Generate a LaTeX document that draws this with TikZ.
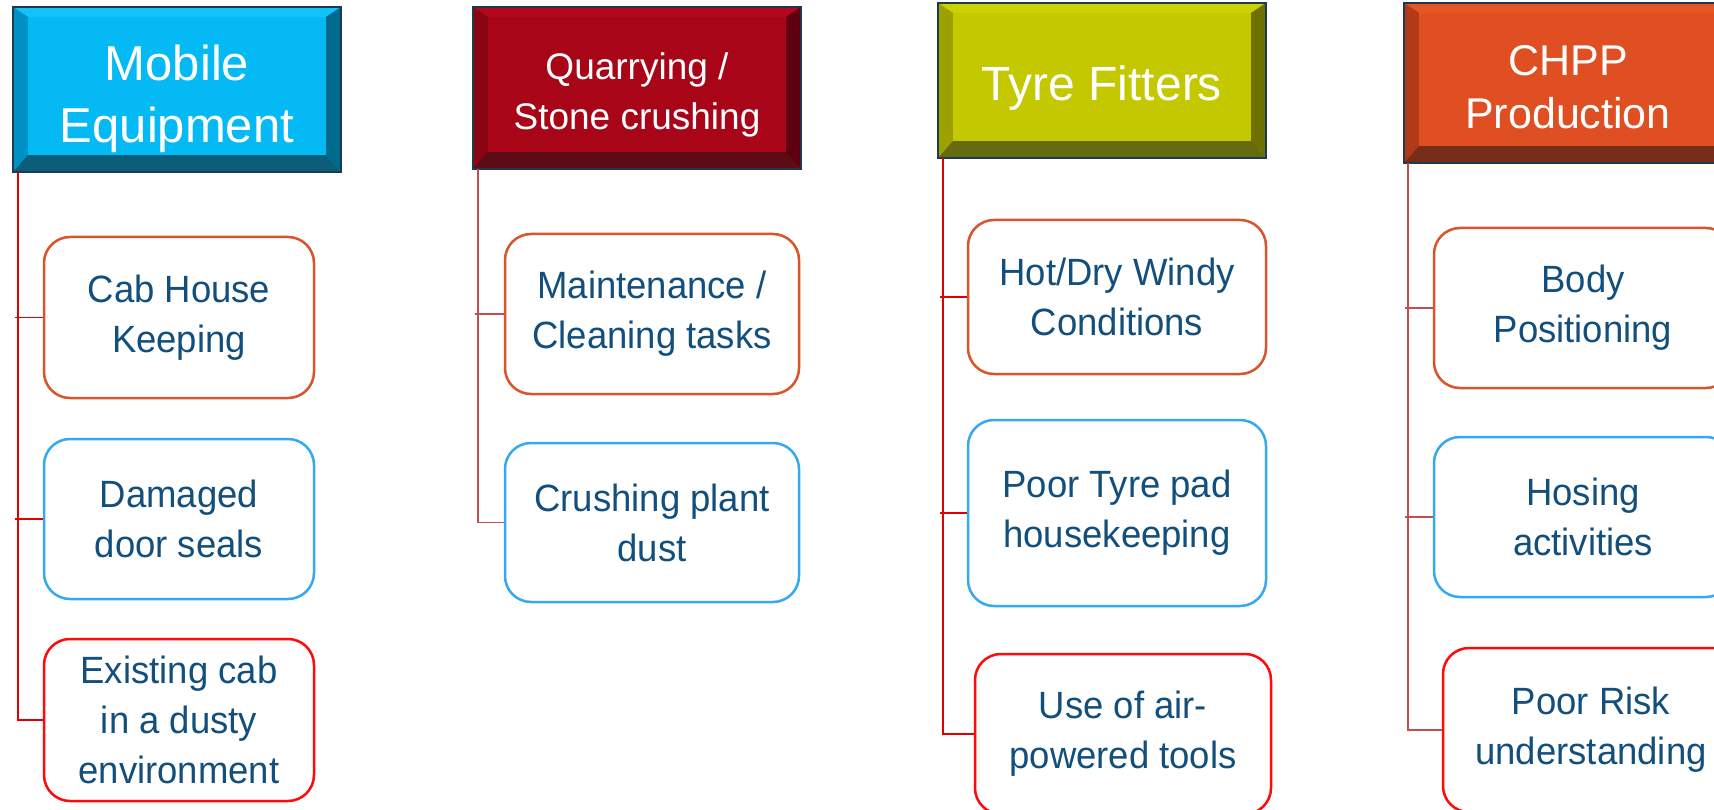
\documentclass[tikz,border=0pt]{standalone}
\usepackage{fontspec}
\setmainfont{Liberation Sans}
\newfontfamily\subfont[FakeStretch=0.96]{Liberation Sans}
\usetikzlibrary{calc}
\definecolor{txtblue}{HTML}{134F7C}
\definecolor{bOrange}{HTML}{D9532B}
\definecolor{bBlue}{HTML}{33AAF0}
\definecolor{bRed}{HTML}{FF0A0A}
\definecolor{hdrEdge}{HTML}{1E3A4E}
\definecolor{lnRed}{HTML}{E00000}
\definecolor{lnBrick}{HTML}{C0504D}
% Mobile
\definecolor{mMain}{HTML}{05B9F5}\definecolor{mTop}{HTML}{14C2FA}
\definecolor{mLeft}{HTML}{0092C4}\definecolor{mRight}{HTML}{006A8E}\definecolor{mBot}{HTML}{0B5E7A}
% Quarry
\definecolor{qMain}{HTML}{A80519}\definecolor{qTop}{HTML}{B4061C}
\definecolor{qLeft}{HTML}{8B0414}\definecolor{qRight}{HTML}{5E0010}\definecolor{qBot}{HTML}{5C0C16}
% Tyre
\definecolor{tMain}{HTML}{C3C800}\definecolor{tTop}{HTML}{CCD200}
\definecolor{tLeft}{HTML}{9DA100}\definecolor{tRight}{HTML}{6E7100}\definecolor{tBot}{HTML}{666A10}
% CHPP
\definecolor{cMain}{HTML}{DF4F22}\definecolor{cTop}{HTML}{E75426}
\definecolor{cLeft}{HTML}{B13A18}\definecolor{cRight}{HTML}{8A2E12}\definecolor{cBot}{HTML}{782C1A}
\tikzset{
  hdr/.style={rectangle, minimum width=328pt, inner sep=0pt},
  hdrtxt/.style={inner sep=0pt, text=white, align=center},
  sub/.style={rectangle, rounded corners=26pt, line width=2.5pt, fill=white, inner sep=0pt,
    text=txtblue, align=center, font=\subfont\fontsize{38}{50}\selectfont,
    execute at begin node={\rule{0pt}{36pt}}},
  hdredge/.style={draw=hdrEdge, line width=2pt},
  conn/.style={line width=1.5pt},
}
\newcommand\hdrbevel[5]{%
  \fill[#2] (#1.north west) -- (#1.north east) -- ($(#1.north east)+(-15,10)$) -- ($(#1.north west)+(15,10)$) -- cycle;
  \fill[#3] (#1.north west) -- ($(#1.north west)+(15,10)$) -- ($(#1.south west)+(15,-17)$) -- (#1.south west) -- cycle;
  \fill[#4] (#1.north east) -- ($(#1.north east)+(-15,10)$) -- ($(#1.south east)+(-15,-17)$) -- (#1.south east) -- cycle;
  \fill[#5] (#1.south west) -- ($(#1.south west)+(15,-17)$) -- ($(#1.south east)+(-15,-17)$) -- (#1.south east) -- cycle;
  \draw[hdredge] (#1.north west) rectangle (#1.south east);
}
\begin{document}
\begin{tikzpicture}[x=1pt,y=-1pt]
\useasboundingbox (0,0) rectangle (1714,810);
\clip (0,0) rectangle (1714,810);
\fill[white] (0,0) rectangle (1714,810);

% ---------- headers ----------
\node[hdr, fill=mMain, minimum height=165pt] (h1) at (177,89.5) {};
\hdrbevel{h1}{mTop}{mLeft}{mRight}{mBot}
\node[hdrtxt, font=\fontsize{49}{62}\selectfont] (h1t) at ($(h1.center)+(0,9)$) {Mobile\\Equipment};

\node[hdr, fill=qMain, minimum height=162pt] (h2) at (637,88) {};
\hdrbevel{h2}{qTop}{qLeft}{qRight}{qBot}
\node[hdrtxt, font=\fontsize{37}{50}\selectfont] (h2t) at ($(h2.center)+(0,7)$) {Quarrying /\\Stone crushing};

\node[hdr, fill=tMain, minimum height=155pt] (h3) at (1102,80.5) {};
\hdrbevel{h3}{tTop}{tLeft}{tRight}{tBot}
\node[hdrtxt, font=\fontsize{48}{58}\selectfont] (h3t) at ($(h3.center)+(0,8)$) {Tyre Fitters};

\node[hdr, fill=cMain, minimum height=160pt] (h4) at (1568,83) {};
\hdrbevel{h4}{cTop}{cLeft}{cRight}{cBot}
\node[hdrtxt, font=\fontsize{43}{53}\selectfont] (h4t) at ($(h4.center)+(0,4)$) {CHPP\\Production};

% ---------- sub boxes ----------
\node[sub, draw=bOrange, minimum width=270pt, minimum height=161pt] (a1) at (179,317.5) {Cab House\\Keeping};
\node[sub, draw=bBlue,   minimum width=270pt, minimum height=160pt] (a2) at (179,519) {Damaged\\door seals};
\node[sub, draw=bRed,    minimum width=270pt, minimum height=162pt] (a3) at (179,720) {Existing cab\\in a dusty\\environment};

\node[sub, draw=bOrange, minimum width=294pt, minimum height=160pt] (b1) at (652,314) {Maintenance /\\Cleaning tasks};
\node[sub, draw=bBlue,   minimum width=294pt, minimum height=159pt] (b2) at (652,522.5) {Crushing plant\\dust};

\node[sub, draw=bOrange, minimum width=298pt, minimum height=154pt] (c1) at (1117,297) {Hot/Dry Windy\\Conditions};
\node[sub, draw=bBlue,   minimum width=298pt, minimum height=186pt] (c2) at (1117,513) {Poor Tyre pad\\housekeeping};
\node[sub, draw=bRed,    minimum width=296pt, minimum height=160pt] (c3) at (1123,734) {Use of air-\\powered tools};

\node[sub, draw=bOrange, minimum width=298pt, minimum height=160pt] (d1) at (1583,308) {Body\\Positioning};
\node[sub, draw=bBlue,   minimum width=298pt, minimum height=160pt] (d2) at (1583,517) {Hosing\\activities};
\node[sub, draw=bRed,    minimum width=296pt, minimum height=164pt] (d3) at (1591,730) {Poor Risk\\understanding};

% ---------- connectors ----------
\coordinate (l1) at ($(h1.south west)+(5,0)$);
\coordinate (l2) at ($(h2.south west)+(5,0)$);
\coordinate (l3) at ($(h3.south west)+(5,0)$);
\coordinate (l4) at ($(h4.south west)+(4,0)$);

\draw[conn, lnRed] (l1) |- (a3.west);
\draw[conn, lnRed] ($(l1 |- a1.west)+(-3,0)$) -- (a1.west);
\draw[conn, lnRed] ($(l1 |- a2.west)+(-3,0)$) -- (a2.west);

\draw[conn, lnBrick] (l2) |- (b2.west);
\draw[conn, lnBrick] ($(l2 |- b1.west)+(-3,0)$) -- (b1.west);

\draw[conn, lnRed] (l3) |- (c3.west);
\draw[conn, lnRed] ($(l3 |- c1.west)+(-3,0)$) -- (c1.west);
\draw[conn, lnRed] ($(l3 |- c2.west)+(-3,0)$) -- (c2.west);

\draw[conn, lnBrick] (l4) |- (d3.west);
\draw[conn, lnBrick] ($(l4 |- d1.west)+(-3,0)$) -- (d1.west);
\draw[conn, lnBrick] ($(l4 |- d2.west)+(-3,0)$) -- (d2.west);
\end{tikzpicture}
\end{document}
